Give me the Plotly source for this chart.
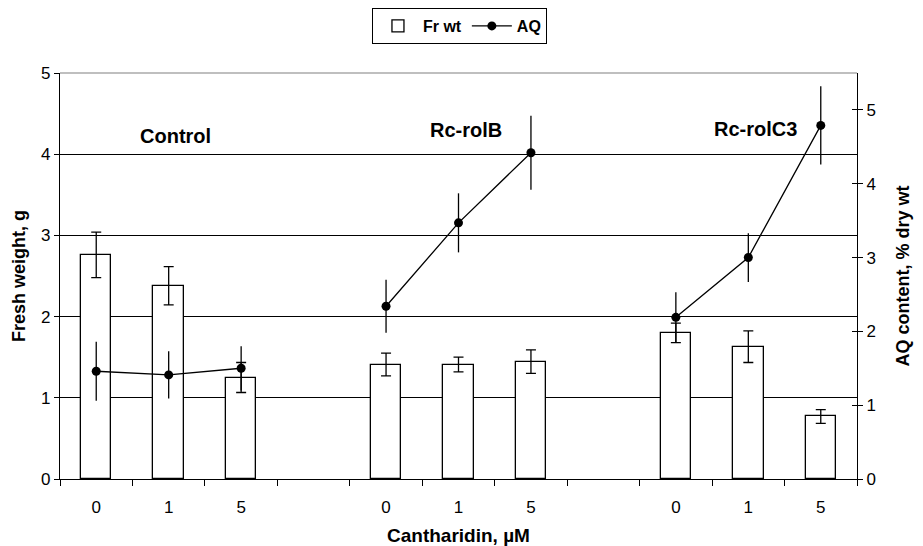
import plotly.graph_objects as go

# ---- data ----
slot_labels = ["0", "1", "5", "", "0", "1", "5", "", "0", "1", "5"]
fr_wt = [2.76, 2.38, 1.25, None, 1.41, 1.41, 1.445, None, 1.80, 1.63, 0.77]
fr_err = [0.28, 0.235, 0.185, None, 0.14, 0.09, 0.145, None, 0.12, 0.195, 0.085]
aq = [1.46, 1.41, 1.50, None, 2.34, 3.47, 4.42, None, 2.19, 3.00, 4.79]
aq_err = [0.40, 0.32, 0.30, None, 0.36, 0.40, 0.50, None, 0.34, 0.33, 0.53]
group_names = ["Control", "Rc-rolB", "Rc-rolC3"]
group_label_x = [1.1, 5.1, 9.1]
group_label_y = [4.22, 4.30, 4.31]
left_ticks = [0, 1, 2, 3, 4, 5]
right_ticks = [0, 1, 2, 3, 4, 5]

keys = ["s%d" % i for i in range(len(slot_labels))]
FONT = "Liberation Sans, Arial, sans-serif"

fig = go.Figure()
fig.add_trace(go.Bar(
    x=keys, y=fr_wt, name="<b>Fr wt</b>", width=0.42,
    marker=dict(color="white", line=dict(color="black", width=1.3)),
    error_y=dict(type="data", array=fr_err, color="black", thickness=1.3, width=5),
    yaxis="y",
))
fig.add_trace(go.Scatter(
    x=keys, y=aq, name="<b>AQ</b>", mode="lines+markers", yaxis="y2",
    line=dict(color="black", width=1.3),
    marker=dict(color="black", size=9),
    error_y=dict(type="data", array=aq_err, color="black", thickness=1.3, width=0),
    connectgaps=False,
))
# invisible trace for the inner ticks of the right axis
fig.add_trace(go.Scatter(x=[keys[0]], y=[None], yaxis="y3", showlegend=False,
                         hoverinfo="skip", mode="markers"))

for name, gx, gy in zip(group_names, group_label_x, group_label_y):
    fig.add_annotation(x=gx, y=gy, xref="x", yref="y", text="<b>%s</b>" % name,
                       showarrow=False, font=dict(size=20, color="black", family=FONT))

fig.add_shape(type="line", xref="paper", yref="paper", x0=0, x1=1, y0=1, y1=1,
              line=dict(color="#808080", width=1.2), layer="above")

fig.update_layout(
    width=915, height=538,
    margin=dict(l=52, r=66, t=65, b=67, autoexpand=False),
    paper_bgcolor="white", plot_bgcolor="white",
    font=dict(family=FONT, color="black", size=17),
    showlegend=True,
    legend=dict(orientation="h", x=0.4934, xanchor="center", xref="container",
                y=1.0, yanchor="top", yref="container",
                bordercolor="black", borderwidth=1, font=dict(size=16, family=FONT),
                itemwidth=40, tracegroupgap=0),
    bargap=0,
    xaxis=dict(
        type="category", categoryorder="array", categoryarray=keys,
        tickmode="array", tickvals=keys, ticktext=slot_labels, automargin=False,
        tickson="boundaries", ticks="outside", ticklen=6, tickcolor="black",
        ticklabelstandoff=12,
        showline=True, linecolor="black", linewidth=1.3, showgrid=False,
        range=[-0.5, 10.5], tickfont=dict(size=17),
        title=dict(text="<b>Cantharidin, µM</b>", font=dict(size=19), standoff=17),
    ),
    yaxis=dict(
        range=[0, 5], tickvals=left_ticks, ticks="outside", ticklen=5, tickcolor="black",
        showline=True, linecolor="black", linewidth=1.3, automargin=False,
        showgrid=True, gridcolor="black", gridwidth=1, zeroline=False,
        tickfont=dict(size=17),
        title=dict(text="<b>Fresh weight, g</b>", font=dict(size=18), standoff=10),
    ),
    yaxis2=dict(
        overlaying="y", side="right", range=[0, 5.5], tickvals=right_ticks,
        ticks="outside", ticklen=5, tickcolor="black", automargin=False,
        showline=True, linecolor="black", linewidth=1.3, showgrid=False, zeroline=False,
        tickfont=dict(size=17),
        title=dict(text="<b>AQ content, % dry wt</b>", font=dict(size=18), standoff=21),
    ),
    yaxis3=dict(
        overlaying="y", side="right", range=[0, 5.5], tickvals=right_ticks,
        ticks="inside", ticklen=5, tickcolor="black", showticklabels=False,
        showline=False, showgrid=False, zeroline=False, automargin=False,
    ),
)

fig.write_html("out.html")
